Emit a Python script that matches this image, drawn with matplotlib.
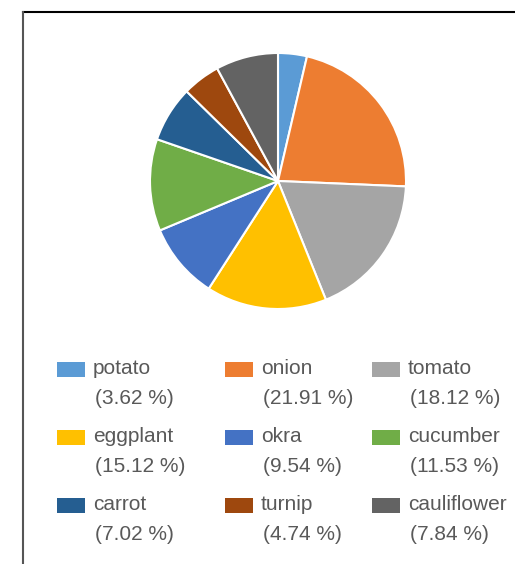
import matplotlib
matplotlib.use("Agg")
import matplotlib.pyplot as plt
from matplotlib.patches import Rectangle
from matplotlib.lines import Line2D

categories = ["potato", "onion", "tomato", "eggplant", "okra", "cucumber",
              "carrot", "turnip", "cauliflower"]
shares = [3.62, 21.91, 18.12, 15.12, 9.54, 11.53, 7.02, 4.74, 7.84]
colors = ["#5B9BD5", "#ED7D31", "#A5A5A5", "#FFC000", "#4472C4", "#70AD47",
          "#255E91", "#9E480E", "#636363"]

W, H = 515, 564
fig = plt.figure(figsize=(W / 100, H / 100), dpi=100)
fig.patch.set_facecolor("white")

# pie axes
cx, cy, r = 278, 181, 128
ax = fig.add_axes([(cx - r) / W, (H - cy - r) / H, 2 * r / W, 2 * r / H])
ax.pie(shares, colors=colors, startangle=90, counterclock=False,
       wedgeprops=dict(edgecolor="white", linewidth=1.5))
ax.set_xlim(-1, 1)
ax.set_ylim(-1, 1)
ax.set_aspect("equal")
ax.axis("off")

# frame lines (top and left)
fig.add_artist(Line2D([23 / W, 1.0], [(H - 12) / H, (H - 12) / H],
                      color="black", linewidth=1.5, transform=fig.transFigure))
fig.add_artist(Line2D([23 / W, 23 / W], [0, (H - 12) / H],
                      color="#555555", linewidth=1.5, transform=fig.transFigure))

# legend (3 columns, row-major)
col_x = [57, 225, 372]
row_y = [369, 437, 505]
font = ["Liberation Sans", "DejaVu Sans"]
for i, (name, val, c) in enumerate(zip(categories, shares, colors)):
    px = col_x[i % 3]
    py = row_y[i // 3]
    fig.add_artist(Rectangle((px / W, (H - py - 7.5) / H), 28 / W, 15 / H,
                             facecolor=c, edgecolor="none",
                             transform=fig.transFigure))
    fig.text((px + 36) / W, (H - py) / H, name, fontsize=15, color="#595959",
             family=font, va="center", ha="left")
    fig.text((px + 38) / W, (H - py - 29) / H, f"({val:.2f} %)", fontsize=15,
             color="#595959", family=font, va="center", ha="left")

fig.savefig("out.png", dpi=100, facecolor="white")
